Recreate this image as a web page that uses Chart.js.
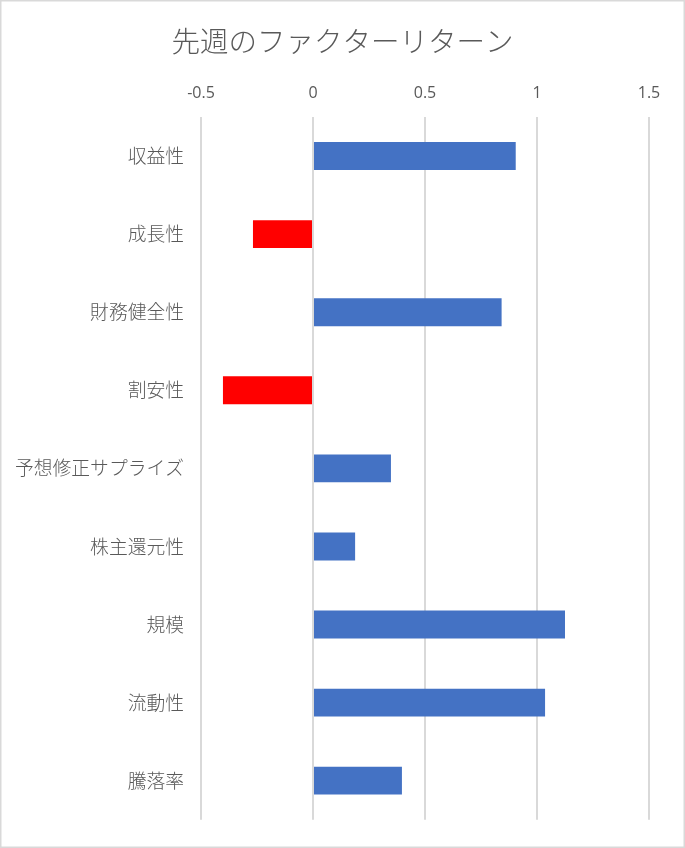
<!DOCTYPE html>
<html>
<head>
<meta charset="utf-8">
<script src="https://cdn.jsdelivr.net/npm/chart.js@4/dist/chart.umd.min.js"></script>
<style>
  html, body { margin: 0; padding: 0; background: #fff; }
  #wrap { position: relative; width: 685px; height: 848px; }
</style>
</head>
<body>
<div id="wrap"><canvas id="c" width="685" height="848"></canvas></div>
<script>
const chartTitle = '先週のファクターリターン';
const categories = ['収益性', '成長性', '財務健全性', '割安性', '予想修正サプライズ', '株主還元性', '規模', '流動性', '騰落率'];
const values = [0.905, -0.268, 0.842, -0.402, 0.348, 0.188, 1.125, 1.036, 0.397];
const xTickValues = [-0.5, 0, 0.5, 1, 1.5];
const xTickLabels = ['-0.5', '0', '0.5', '1', '1.5'];

const decorPlugin = {
  id: 'decor',
  afterDraw(chart) {
    const ctx = chart.ctx;
    ctx.save();
    ctx.fillStyle = '#595959';
    ctx.font = '300 28.5px "Noto Sans CJK JP"';
    ctx.textAlign = 'center';
    ctx.textBaseline = 'middle';
    ctx.fillText(chartTitle, chart.width / 2, 41);
    ctx.strokeStyle = '#d9d9d9';
    ctx.lineWidth = 1.5;
    ctx.strokeRect(0.75, 0.75, chart.width - 1.5, chart.height - 1.5);
    ctx.restore();
  }
};

new Chart(document.getElementById('c'), {
  type: 'bar',
  data: {
    labels: categories,
    datasets: [{
      data: values,
      backgroundColor: ctx => (values[ctx.dataIndex] < 0 ? '#FF0000' : '#4472C4'),
      borderWidth: 0,
      categoryPercentage: 1.0,
      barPercentage: 0.357
    }]
  },
  options: {
    indexAxis: 'y',
    responsive: false,
    animation: false,
    devicePixelRatio: 1,
    layout: { padding: { top: 68, right: 36, bottom: 25, left: 14 } },
    plugins: {
      legend: { display: false },
      tooltip: { enabled: false },
      title: { display: false }
    },
    scales: {
      x: {
        position: 'top',
        min: -0.5,
        max: 1.5,
        afterBuildTicks: scale => { scale.ticks = xTickValues.map(v => ({ value: v })); },
        ticks: {
          color: '#595959',
          font: { family: '"Open Sans"', size: 16 },
          padding: 14,
          callback: (v) => xTickLabels[xTickValues.indexOf(v)]
        },
        grid: { color: '#d9d9d9', lineWidth: 2, drawTicks: false },
        border: { display: false },
        afterFit: scale => { scale.height = 49; }
      },
      y: {
        ticks: {
          color: '#595959',
          font: { family: '"Noto Sans CJK JP"', size: 18.8, weight: '300' },
          padding: 17
        },
        grid: { display: false, drawTicks: false },
        border: { display: false },
        afterFit: scale => { scale.width = 187; }
      }
    }
  },
  plugins: [decorPlugin]
});
</script>
</body>
</html>
